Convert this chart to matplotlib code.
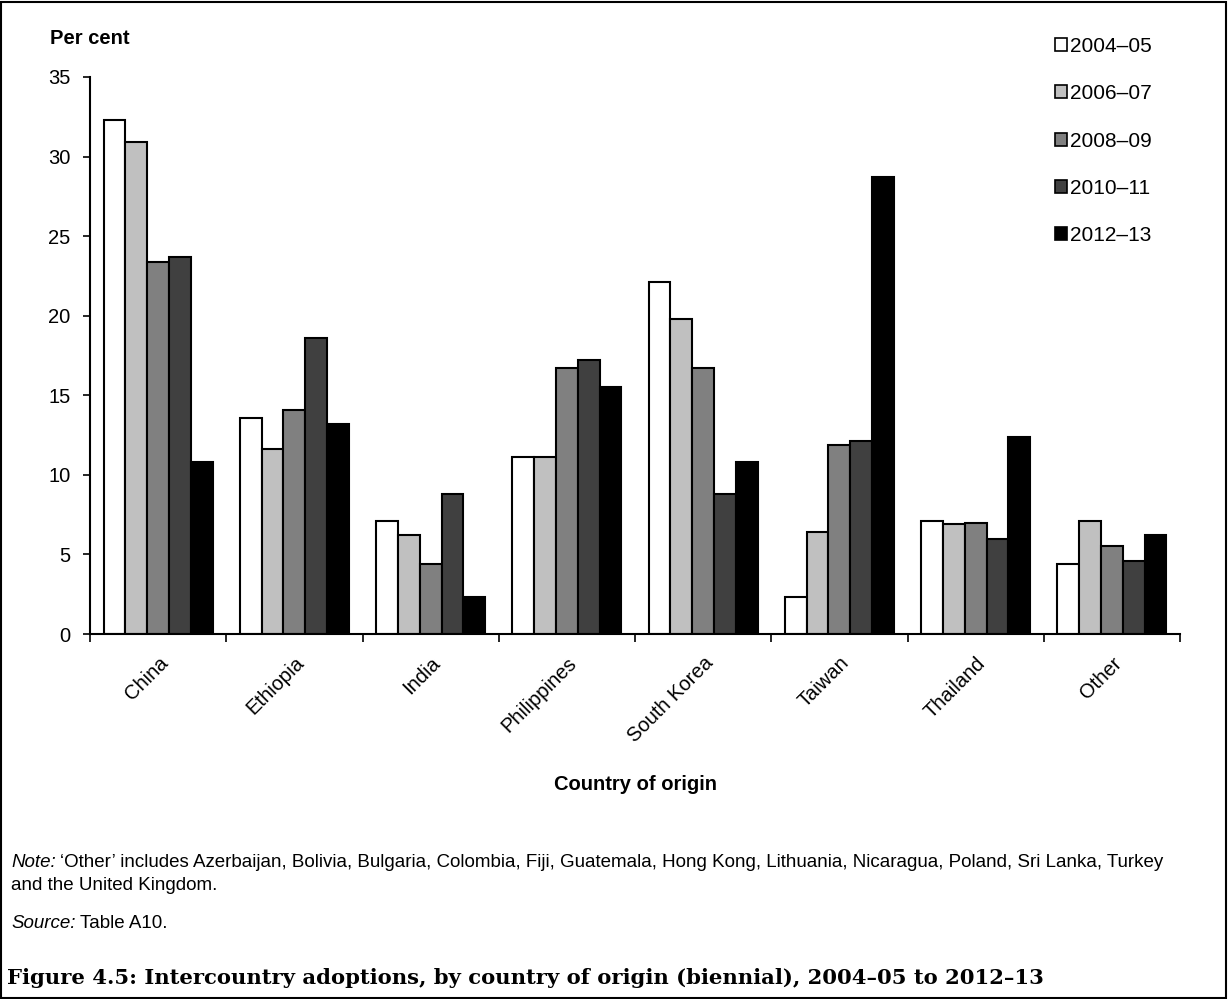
import matplotlib
matplotlib.use("Agg")
import matplotlib.pyplot as plt
import numpy as np
from matplotlib.patches import Rectangle

countries = ["China", "Ethiopia", "India", "Philippines", "South Korea",
             "Taiwan", "Thailand", "Other"]
periods = ["2004\u201305", "2006\u201307", "2008\u201309", "2010\u201311", "2012\u201313"]

v2004_05 = [32.3, 13.6, 7.1, 11.1, 22.1, 2.3, 7.1, 4.4]
v2006_07 = [30.9, 11.6, 6.2, 11.1, 19.8, 6.4, 6.9, 7.1]
v2008_09 = [23.4, 14.1, 4.4, 16.7, 16.7, 11.9, 7.0, 5.5]
v2010_11 = [23.7, 18.6, 8.8, 17.2, 8.8, 12.1, 6.0, 4.6]
v2012_13 = [10.8, 13.2, 2.3, 15.5, 10.8, 28.7, 12.4, 6.2]

series = [v2004_05, v2006_07, v2008_09, v2010_11, v2012_13]
fills = ["#ffffff", "#c0c0c0", "#808080", "#404040", "#000000"]

yticks = [0, 5, 10, 15, 20, 25, 30, 35]

plt.rcParams["font.family"] = ["Liberation Sans", "DejaVu Sans"]

W, H = 1228, 999
fig = plt.figure(figsize=(W / 100, H / 100), dpi=100)
ax = fig.add_axes([90 / W, 1 - 634 / H, (1180 - 90) / W, (634 - 77) / H])

x = np.arange(len(countries))
bw = 0.16
for i, (vals, col) in enumerate(zip(series, fills)):
    ax.bar(x + (i - 2) * bw, vals, width=bw, color=col, edgecolor="black",
           linewidth=1.5, label=periods[i], zorder=2)

ax.set_xlim(-0.5, len(countries) - 0.5)
ax.set_ylim(0, 35)
ax.set_yticks(yticks)
ax.tick_params(axis="y", labelsize=14.5, length=5, width=1.2, direction="out", pad=9)

ax.set_xticks(x)
ax.set_xticklabels(countries, rotation=45, ha="right", rotation_mode="anchor",
                   fontsize=14.5)
ax.tick_params(axis="x", which="major", length=0, pad=14)
ax.set_xticks(np.arange(len(countries) + 1) - 0.5, minor=True)
ax.tick_params(axis="x", which="minor", length=6, width=1.2, direction="out")

for side in ["top", "right"]:
    ax.spines[side].set_visible(False)
for side in ["left", "bottom"]:
    ax.spines[side].set_linewidth(1.5)

leg = ax.legend(loc="upper left", bbox_to_anchor=(1055 / W, 1 - 37 / H),
                bbox_transform=fig.transFigure, frameon=False, fontsize=15,
                handlelength=0.58, handleheight=0.58, handletextpad=0.15,
                labelspacing=1.36, borderpad=0, borderaxespad=0)
for h in leg.legend_handles:
    h.set_linewidth(1.2)

fig.text(50 / W, 1 - 43.5 / H, "Per cent", fontsize=14.5, fontweight="bold",
         va="baseline", ha="left")
fig.text(636 / W, 1 - 784 / H, "Country of origin", fontsize=14.5,
         fontweight="bold", va="center", ha="center")

renderer = fig.canvas.get_renderer()
note_fs = 13.5


def lead_and_rest(xpx, ypx, lead, rest):
    """Italic lead-in word followed by upright text on the same line."""
    t = fig.text(xpx / W, 1 - ypx / H, lead, fontsize=note_fs, style="italic",
                 va="baseline")
    bb = t.get_window_extent(renderer=renderer)
    fig.text((bb.x1 + 4) / W, 1 - ypx / H, rest, fontsize=note_fs, va="baseline")


lead_and_rest(11, 867, "Note:",
              "\u2018Other\u2019 includes Azerbaijan, Bolivia, Bulgaria, Colombia, "
              "Fiji, Guatemala, Hong Kong, Lithuania, Nicaragua, Poland, "
              "Sri Lanka, Turkey")
fig.text(11 / W, 1 - 890 / H, "and the United Kingdom.", fontsize=note_fs,
         va="baseline")
lead_and_rest(11, 928, "Source:", "Table A10.")

fig.text(7 / W, 1 - 978 / H,
         "Figure 4.5: Intercountry adoptions, by country of origin (biennial), "
         "2004\u201305 to 2012\u201313",
         fontsize=15.2, fontweight="bold", family="DejaVu Serif", va="center")

fig.add_artist(Rectangle((0.75 / W, 0.75 / H), (W - 2.5) / W, (H - 2.5) / H,
                         transform=fig.transFigure, fill=False,
                         edgecolor="black", linewidth=1.5))

fig.savefig("out.png", dpi=100)
